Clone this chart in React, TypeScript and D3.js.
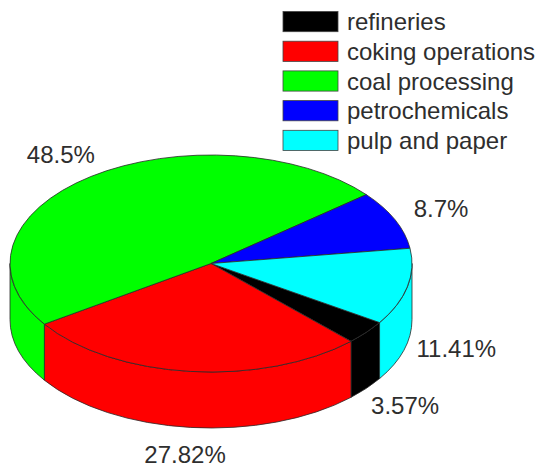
import React from 'react'
import * as d3 from 'd3'

// Données (parts en %)
const categories = ['refineries', 'coking operations', 'coal processing', 'petrochemicals', 'pulp and paper']
const shares = [3.57, 27.82, 48.5, 8.7, 11.41]
const colors = ['#000000', '#ff0000', '#00ff00', '#0000ff', '#00ffff']

const W = 550
const H = 472
const FONT = '"Liberation Sans", Arial, Helvetica, sans-serif'

// Disque vu en perspective : ellipse du dessus + épaisseur
const cx = 211
const cy = 263.5
const rx = 201
const ry = 108.5
const depth = 56
const startDeg = 33 // angle (sens horaire depuis 3 h) du début de "refineries"

type Slice = { i: number; t1: number; t2: number }

const pt = (t: number, dy = 0) => [cx + rx * Math.cos(t), cy + ry * Math.sin(t) + dy]

function topPath(t1: number, t2: number) {
  const [x1, y1] = pt(t1)
  const [x2, y2] = pt(t2)
  const large = t2 - t1 > Math.PI ? 1 : 0
  return `M${cx},${cy}L${x1},${y1}A${rx},${ry} 0 ${large} 1 ${x2},${y2}Z`
}

function sidePath(s: number, e: number) {
  const [x1, y1] = pt(s)
  const [x2, y2] = pt(e)
  const [x3, y3] = pt(e, depth)
  const [x4, y4] = pt(s, depth)
  return `M${x1},${y1}A${rx},${ry} 0 0 1 ${x2},${y2}L${x3},${y3}A${rx},${ry} 0 0 0 ${x4},${y4}Z`
}

export default function App() {
  const a0 = ((startDeg + 90) * Math.PI) / 180
  const arcs = d3
    .pie<number>()
    .sort(null)
    .startAngle(a0)
    .endAngle(a0 + 2 * Math.PI)(shares)

  const slices: Slice[] = arcs.map((a, i) => ({
    i,
    t1: a.startAngle - Math.PI / 2,
    t2: a.endAngle - Math.PI / 2,
  }))

  // parties visibles du flanc (moitié avant : 0..π, modulo 2π)
  const sides: { i: number; s: number; e: number }[] = []
  slices.forEach((sl) => {
    ;[0, 2 * Math.PI].forEach((off) => {
      const s = Math.max(sl.t1, off)
      const e = Math.min(sl.t2, off + Math.PI)
      if (e - s > 1e-6) sides.push({ i: sl.i, s, e })
    })
  })

  const k = 1.25
  const labels = slices.map((sl) => {
    const m = (sl.t1 + sl.t2) / 2
    const sin = Math.sin(m)
    return {
      i: sl.i,
      x: cx + k * rx * Math.cos(m),
      y: cy + k * ry * sin + (sin > 0 ? depth : 0),
    }
  })

  const legendY = d3.scaleBand<number>().domain(d3.range(categories.length)).range([11.5, 150.5]).paddingInner(0.32)

  return (
    <svg
      width={W}
      height={H}
      style={{ position: 'absolute', left: 0, top: 0, background: '#fff' }}
      fontFamily={FONT}
    >
      <g stroke="#2a2a2a" strokeWidth={0.8} strokeLinejoin="round">
        {sides.map((d, j) => (
          <path key={'s' + j} d={sidePath(d.s, d.e)} fill={colors[d.i]} />
        ))}
        {slices.map((sl) => (
          <path key={'t' + sl.i} d={topPath(sl.t1, sl.t2)} fill={colors[sl.i]} />
        ))}
      </g>

      <g fontSize={24} fill="#2e2e2e" textAnchor="middle">
        {labels.map((l) => (
          <text key={'l' + l.i} x={l.x} y={l.y} dominantBaseline="central">
            {`${shares[l.i]}%`}
          </text>
        ))}
      </g>

      <g fontSize={24} fill="#2e2e2e">
        {categories.map((c, i) => (
          <g key={c}>
            <rect
              x={283}
              y={legendY(i)!}
              width={55}
              height={legendY.bandwidth()}
              fill={colors[i]}
              stroke="#444"
              strokeWidth={0.8}
            />
            <text x={347} y={legendY(i)! + legendY.bandwidth() / 2} dominantBaseline="central">
              {c}
            </text>
          </g>
        ))}
      </g>
    </svg>
  )
}
